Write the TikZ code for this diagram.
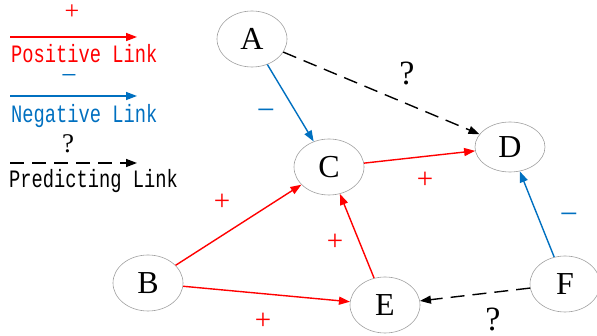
\documentclass[tikz,border=0pt]{standalone}
\usepackage{fontspec}
\setmainfont{Liberation Serif}
\newfontfamily\legendfont[FakeStretch=0.75]{Liberation Mono}
\usetikzlibrary{arrows.meta,shapes.geometric}
\definecolor{posred}{RGB}{255,0,0}
\definecolor{negblue}{RGB}{0,112,192}
\definecolor{rimgray}{RGB}{160,160,160}

\tikzset{
  vertex/.style={ellipse, draw=rimgray, line width=0.6pt, fill=white,
    minimum width=70pt, minimum height=56pt, inner sep=0pt,
    font=\fontsize{32}{32}\selectfont},
  tip/.style={-{Triangle[length=11pt,width=8pt]}},
  poslink/.style={tip, draw=posred, line width=1.4pt},
  neglink/.style={tip, draw=negblue, line width=1.4pt},
  predlink/.style={tip, draw=black, line width=1.4pt, dash pattern=on 14pt off 8pt},
  sign/.style={inner sep=0pt, text depth=0pt},
  possign/.style={sign, text=posred, font=\fontsize{29}{29}\selectfont},
  negsign/.style={sign, text=negblue, font=\fontsize{32}{32}\selectfont},
  qsign/.style={sign, text=black, font=\fontsize{34}{34}\selectfont},
  legendtext/.style={anchor=base west, inner sep=0pt, font=\legendfont\fontsize{25}{25}\selectfont},
}

\begin{document}
\begin{tikzpicture}[x=1pt,y=-1pt]
\useasboundingbox (0,0) rectangle (597,336);

% legend
\node[possign, font=\fontsize{26}{26}\selectfont] (lgplus) at (72,12) {+};
\coordinate (lg1a) at (10,37);
\coordinate (lg1b) at (137,37);
\draw[poslink] (lg1a) -- (lg1b);
\node[legendtext, text=posred] (lgpos) at (11,63) {Positive Link};

\node[negsign, font=\fontsize{28}{28}\selectfont] (lgminus) at (69,80) {−};
\coordinate (lg2a) at (10,96);
\coordinate (lg2b) at (137,96);
\draw[neglink] (lg2a) -- (lg2b);
\node[legendtext, text=negblue] (lgneg) at (11,123) {Negative Link};

\node[qsign, font=\fontsize{27}{27}\selectfont] (lgq) at (68,144) {?};
\coordinate (lg3a) at (10,163);
\coordinate (lg3b) at (137,163);
\draw[predlink] (lg3a) -- (lg3b);
\node[legendtext] (lgpred) at (9,188) {Predicting Link};

% nodes
\node[vertex] (A) at (252,39) {A};
\node[vertex] (C) at (329,167) {C};
\node[vertex, minimum height=50pt] (D) at (510,147) {D};
\node[vertex] (B) at (148,283) {B};
\node[vertex] (E) at (385,305) {E};
\node[vertex] (F) at (565,284) {F};

% links
\draw[neglink] (A) -- (C);
\draw[predlink] (A) -- (D);
\draw[poslink] (C) -- (D);
\draw[poslink] (B) -- (C);
\draw[poslink] (B) -- (E);
\draw[poslink] (E) -- (C);
\draw[neglink] (F) -- (D);
\draw[predlink] (F) -- (E);

% signs on links
\node[negsign] (sAC) at (266,115) {−};
\node[qsign] (sAD) at (407,73) {?};
\node[possign] (sCD) at (425,180) {+};
\node[possign] (sBC) at (222,202) {+};
\node[possign] (sEC) at (335,242) {+};
\node[possign] (sBE) at (263,321) {+};
\node[negsign] (sFD) at (569,219) {−};
\node[qsign] (sFE) at (493,319) {?};
\end{tikzpicture}
\end{document}
